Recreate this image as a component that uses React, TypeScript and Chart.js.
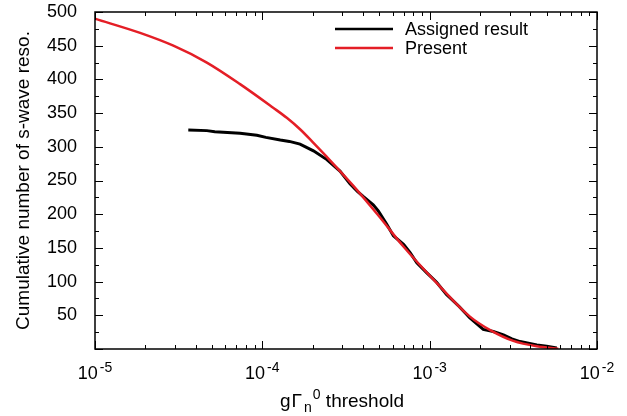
import React, { useEffect, useRef } from 'react';
import { Chart, registerables } from 'chart.js';

Chart.register(...registerables);

// Assigned result (black)
const assignedX = [3.61e-5, 4.66e-5, 5.2e-5, 7.36e-5, 9.27e-5, 1.05e-4, 1.28e-4, 1.45e-4, 1.68e-4, 2.02e-4, 2.43e-4, 2.91e-4, 3.34e-4, 3.7e-4, 4.02e-4, 4.6e-4, 4.93e-4, 5.54e-4, 6.07e-4, 7.0e-4, 7.64e-4, 8.38e-4, 9.62e-4, 1.1e-3, 1.26e-3, 1.5e-3, 1.74e-3, 2.09e-3, 2.4e-3, 2.76e-3, 3.1e-3, 3.47e-3, 4.37e-3, 5.0e-3, 5.75e-3];
const assignedY = [325, 324, 322.5, 320, 317, 314, 310, 308, 304, 294, 281, 264, 245, 234, 226, 214, 205, 185, 168, 155, 143, 128, 113, 99, 81, 63, 46, 29, 26, 21, 15, 11, 6, 4, 1.5];

// Present (red)
const presentX = [1.0e-5, 1.86e-5, 2.94e-5, 4.66e-5, 7.36e-5, 1.16e-4, 1.4e-4, 1.68e-4, 2.0e-4, 2.43e-4, 3.5e-4, 4.94e-4, 6.97e-4, 1.1e-3, 1.74e-3, 2.3e-3, 3.16e-3, 4.37e-3, 5.87e-3];
const presentY = [490, 469, 450, 425, 393, 358, 343, 326, 307, 285, 242, 198, 152, 98, 48, 28, 12, 4, 0.5];

const xDecades = [1e-5, 1e-4, 1e-3, 1e-2];
const xExponents = ['-5', '-4', '-3', '-2'];
const yMajorStep = 50;
const yMinorStep = 25;
const seriesLabels = ['Assigned result', 'Present'];
const yTitle = 'Cumulative number of s-wave reso.';

const FONT = '"Liberation Sans", Arial, Helvetica, sans-serif';
const BLACK = '#000000';
const RED = '#e41e26';

const framePlugin = {
  id: 'frameTicks',
  afterDraw(chart: any) {
    const { ctx, chartArea: a, scales } = chart;
    const xs = scales.x;
    const ys = scales.y;
    ctx.save();
    ctx.strokeStyle = '#000';
    ctx.lineWidth = 1;
    ctx.beginPath();
    for (let d = -5; d <= -2; d++) {
      for (let k = 1; k <= 9; k++) {
        const v = k * Math.pow(10, d);
        if (v < 1e-5 * 0.999 || v > 1e-2 * 1.001) continue;
        const px = Math.round(xs.getPixelForValue(v)) + 0.5;
        const len = k === 1 ? 8 : 4;
        ctx.moveTo(px, a.bottom);
        ctx.lineTo(px, a.bottom - len);
        ctx.moveTo(px, a.top);
        ctx.lineTo(px, a.top + len);
      }
    }
    for (let v = 0; v <= 500; v += yMinorStep) {
      const py = Math.round(ys.getPixelForValue(v)) + 0.5;
      const len = v % yMajorStep === 0 ? 8 : 4;
      ctx.moveTo(a.left, py);
      ctx.lineTo(a.left + len, py);
      ctx.moveTo(a.right, py);
      ctx.lineTo(a.right - len, py);
    }
    ctx.stroke();
    ctx.lineWidth = 1.5;
    ctx.strokeRect(a.left, a.top, a.right - a.left, a.bottom - a.top);

    // x tick labels 10^n
    ctx.fillStyle = '#000';
    ctx.textBaseline = 'alphabetic';
    ctx.textAlign = 'left';
    xDecades.forEach((v, i) => {
      const px = xs.getPixelForValue(v);
      ctx.font = `18px ${FONT}`;
      const w10 = ctx.measureText('10').width;
      ctx.font = `14px ${FONT}`;
      const we = ctx.measureText(xExponents[i]).width;
      const total = w10 + 2 + we;
      const start = px - total / 2;
      ctx.font = `18px ${FONT}`;
      ctx.fillText('10', start, 379);
      ctx.font = `14px ${FONT}`;
      ctx.fillText(xExponents[i], start + w10 + 2, 372);
    });

    // x title: g Γ_n^0 threshold
    const parts = [
      { t: 'g', size: 19, dy: 0, gap: 1 },
      { t: 'Γ', size: 19, dy: 0, gap: 2 },
      { t: 'n', size: 14, dy: 5, gap: 1 },
      { t: '0', size: 14, dy: -8, gap: 0 },
      { t: ' threshold', size: 19, dy: 0, gap: 0 },
    ];
    let total = 0;
    parts.forEach((p) => {
      ctx.font = `${p.size}px ${FONT}`;
      total += ctx.measureText(p.t).width + p.gap;
    });
    let x = (a.left + a.right) / 2 - 4 - total / 2;
    parts.forEach((p) => {
      ctx.font = `${p.size}px ${FONT}`;
      ctx.fillText(p.t, x, 407 + p.dy);
      x += ctx.measureText(p.t).width + p.gap;
    });

    // legend
    const items = [
      { label: seriesLabels[0], color: BLACK, y: 29 },
      { label: seriesLabels[1], color: RED, y: 48 },
    ];
    ctx.font = `18px ${FONT}`;
    ctx.textBaseline = 'middle';
    items.forEach((it) => {
      ctx.strokeStyle = it.color;
      ctx.lineWidth = 2.5;
      ctx.beginPath();
      ctx.moveTo(335, it.y);
      ctx.lineTo(393, it.y);
      ctx.stroke();
      ctx.fillStyle = '#000';
      ctx.fillText(it.label, 405, it.y + 1);
    });
    ctx.restore();
  },
};

export default function App() {
  const ref = useRef<HTMLCanvasElement>(null);
  useEffect(() => {
    if (!ref.current) return;
    const chart = new Chart(ref.current, {
      type: 'line',
      data: {
        datasets: [
          {
            label: seriesLabels[0],
            data: assignedX.map((x, i) => ({ x, y: assignedY[i] })),
            borderColor: BLACK,
            borderWidth: 3,
            pointRadius: 0,
            tension: 0,
            fill: false,
            order: 1,
          },
          {
            label: seriesLabels[1],
            data: presentX.map((x, i) => ({ x, y: presentY[i] })),
            borderColor: RED,
            borderWidth: 2.5,
            pointRadius: 0,
            cubicInterpolationMode: 'monotone',
            fill: false,
            order: 0,
          },
        ],
      },
      options: {
        animation: false,
        responsive: false,
        layout: { padding: { left: 0, top: 12, right: 30, bottom: 0 } },
        plugins: { legend: { display: false }, tooltip: { enabled: false } },
        scales: {
          x: {
            type: 'logarithmic',
            min: 1e-5,
            max: 1e-2,
            grid: { display: false, drawTicks: false },
            border: { display: false },
            ticks: { display: false },
            afterFit: (s: any) => {
              s.height = 67;
            },
          },
          y: {
            type: 'linear',
            min: 0,
            max: 500,
            grid: { display: false, drawTicks: true, tickLength: 18 },
            border: { display: false },
            ticks: {
              stepSize: yMajorStep,
              padding: 0,
              color: '#000',
              font: { family: FONT, size: 18 },
              callback: (v: any) => (v === 0 ? '' : String(v)),
            },
            title: {
              display: true,
              text: yTitle,
              color: '#000',
              font: { family: FONT, size: 19 },
              padding: { top: 12, bottom: 0 },
            },
            afterFit: (s: any) => {
              s.width = 95;
            },
          },
        },
      },
      plugins: [framePlugin],
    } as any);
    return () => chart.destroy();
  }, []);
  return (
    <div style={{ position: 'absolute', left: 0, top: 0, width: 627, height: 416, background: '#fff' }}>
      <canvas ref={ref} width={627} height={416} />
    </div>
  );
}
